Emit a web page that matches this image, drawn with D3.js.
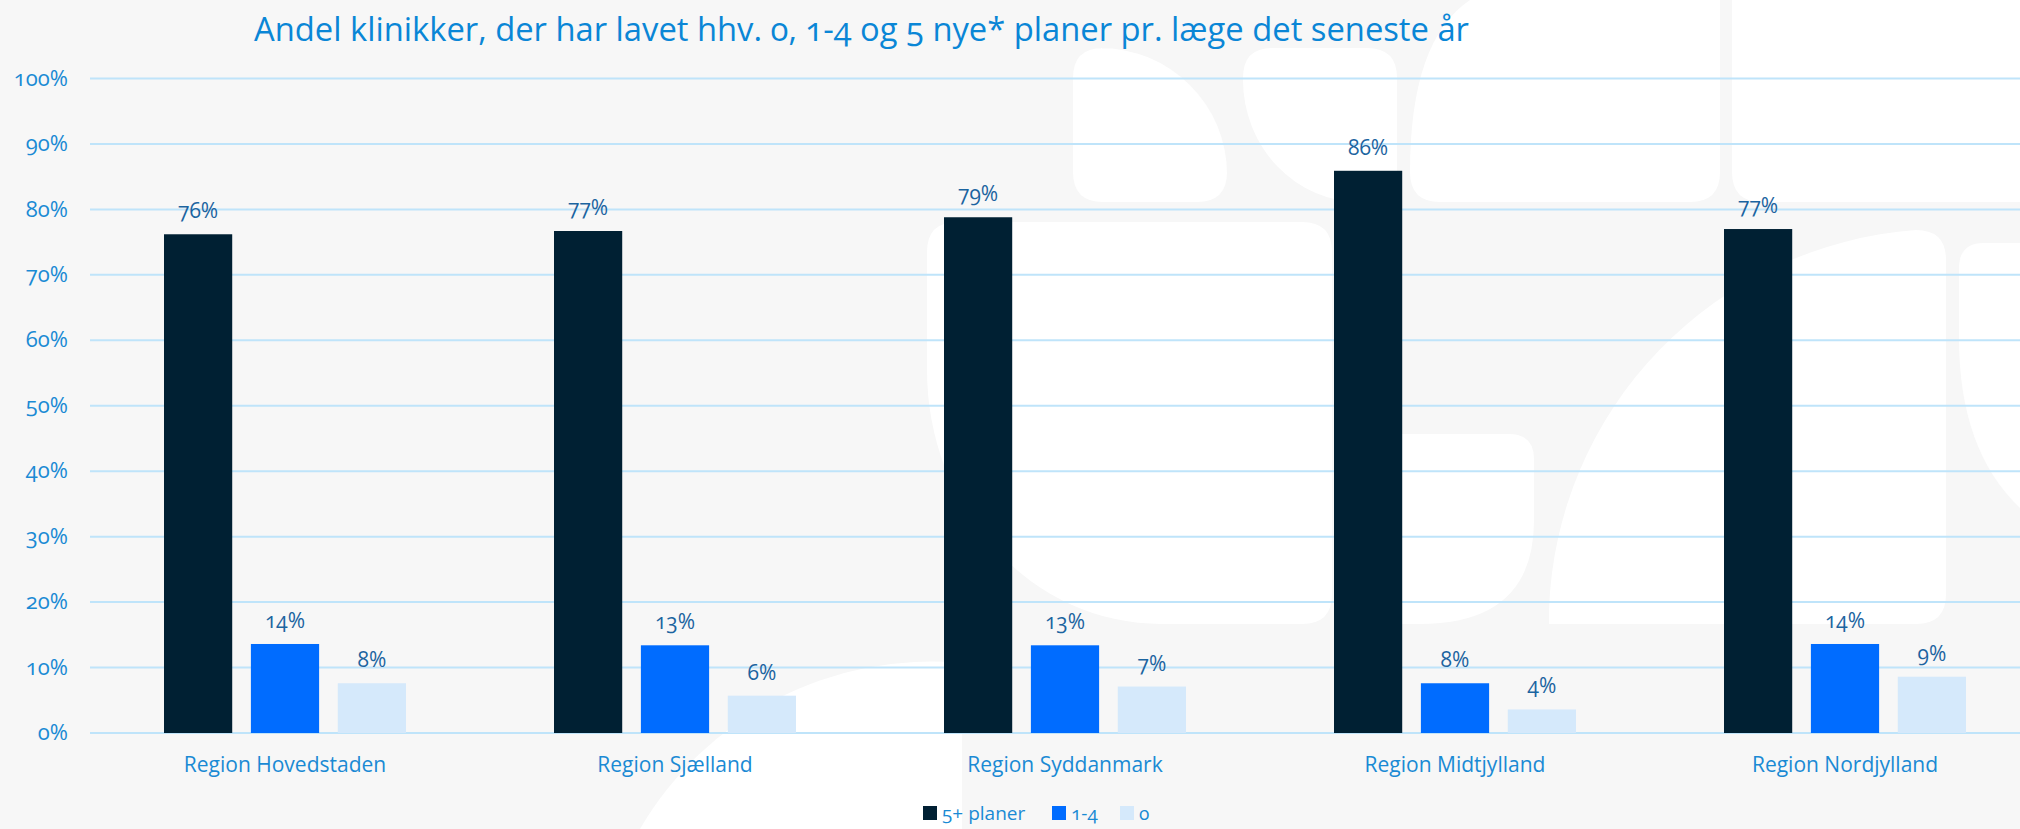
<!DOCTYPE html>
<html>
<head>
<meta charset="utf-8">
<script src="https://cdn.jsdelivr.net/npm/d3@7"></script>
<style>
  html, body { margin: 0; padding: 0; background: #f7f7f7; }
  svg text { font-family: "Open Sans", "Noto Sans", sans-serif; font-variant-numeric: oldstyle-nums; }
</style>
</head>
<body>
<div id="chart"></div>
<script>
// chart data
var regions = ["Region Hovedstaden", "Region Sjælland", "Region Syddanmark", "Region Midtjylland", "Region Nordjylland"];
var seriesNames = ["5+ planer", "1-4", "0"];
var fivePlus = [0.762, 0.767, 0.788, 0.859, 0.770];
var oneToFour = [0.136, 0.134, 0.134, 0.076, 0.136];
var zeroPlans = [0.076, 0.057, 0.071, 0.036, 0.086];
var yTicks = [0, 0.1, 0.2, 0.3, 0.4, 0.5, 0.6, 0.7, 0.8, 0.9, 1];
var titleText = "Andel klinikker, der har lavet hhv. 0, 1-4 og 5 nye* planer pr. læge det seneste år";

var width = 2020, height = 829;
var colors = ["#002033", "#006cff", "#d5e9fb"];

var svg = d3.select("#chart").append("svg")
  .attr("width", width)
  .attr("height", height);

// background
svg.append("rect").attr("width", width).attr("height", height).attr("fill", "#f7f7f7");

// faint logo watermark behind the plot
var decor = [
  "M1103,48 L1100,48 A127,126 0 0 1 1227,174 L1227,172 Q1227,202 1197,202 L1103,202 Q1073,202 1073,172 L1073,78 Q1073,48 1103,48 Z",
  "M1272,48 L1367,48 Q1397,48 1397,78 L1397,172 Q1397,202 1367,202 L1360,202 A117,122 0 0 1 1243,80 L1243,78 Q1243,48 1272,48 Z",
  "M1470,0 L1720,0 L1720,172 Q1720,202 1690,202 L1440,202 Q1410,202 1410,172 Q1410,40 1470,0 Z",
  "M1732,0 L2020,0 L2020,202 L1762,202 Q1732,202 1732,172 Z",
  "M957,222 L1302,222 Q1332,222 1332,252 L1332,594 Q1332,624 1302,624 L1161,624 A234,254 0 0 1 927,370 L927,252 Q927,222 957,222 Z",
  "M1380,434 L1509,434 Q1534,434 1534,459 L1534,520 Q1534,624 1420,624 L1380,624 Z",
  "M1549,624 L1549,610 A397,394 0 0 1 1916,230 Q1946,230 1946,260 L1946,594 Q1946,624 1916,624 Z",
  "M1984,243 L2020,243 L2020,508 Q1959,450 1959,338 L1959,268 Q1959,243 1984,243 Z",
  "M962,663 A337,337 0 0 0 640,829 L962,829 Z"
];
svg.append("g").attr("class", "decor")
  .selectAll("path")
  .data(decor)
  .enter().append("path")
  .attr("d", function(d){ return d; })
  .attr("fill", "#ffffff");

// scales
var x0 = d3.scaleBand().domain(regions).range([90, 2040]).padding(0);
var x1 = d3.scaleBand().domain(seriesNames).range([74, 316]).paddingInner(0.215).paddingOuter(0);
var y = d3.scaleLinear().domain([0, 1]).range([733, 78.5]);
var color = d3.scaleOrdinal().domain(seriesNames).range(colors);
var pct = d3.format(".0%");

// gridlines
svg.append("g").attr("class", "grid")
  .selectAll("line")
  .data(yTicks)
  .enter().append("line")
  .attr("x1", 90)
  .attr("x2", width)
  .attr("y1", function(d){ return y(d); })
  .attr("y2", function(d){ return y(d); })
  .attr("stroke", "#bfe4fa")
  .attr("stroke-width", 2);

// y axis labels
var yAxis = d3.axisLeft(y).tickValues(yTicks).tickFormat(d3.format(".0%")).tickSize(0).tickPadding(0);
svg.append("g")
  .attr("transform", "translate(68,0)")
  .call(yAxis)
  .call(function(g){ g.select(".domain").remove(); })
  .selectAll("text")
  .attr("fill", "#1a8ad4")
  .attr("font-size", 22)
  .attr("dy", "0.3em");

// build rows for bars
var rows = regions.map(function(r, i){
  return {region: r, values: [
    {name: seriesNames[0], value: fivePlus[i]},
    {name: seriesNames[1], value: oneToFour[i]},
    {name: seriesNames[2], value: zeroPlans[i]}
  ]};
});

var groups = svg.append("g").attr("class", "bars")
  .selectAll("g")
  .data(rows)
  .enter().append("g")
  .attr("transform", function(d){ return "translate(" + x0(d.region) + ",0)"; });

groups.selectAll("rect")
  .data(function(d){ return d.values; })
  .enter().append("rect")
  .attr("x", function(d){ return x1(d.name); })
  .attr("width", x1.bandwidth())
  .attr("y", function(d){ return y(d.value); })
  .attr("height", function(d){ return y(0) - y(d.value); })
  .attr("fill", function(d){ return color(d.name); });

// value labels
groups.selectAll("text")
  .data(function(d){ return d.values; })
  .enter().append("text")
  .attr("x", function(d){ return x1(d.name) + x1.bandwidth() / 2; })
  .attr("y", function(d){ return y(d.value) - 16; })
  .attr("text-anchor", "middle")
  .attr("font-size", 21)
  .attr("fill", "#1b64a0")
  .text(function(d){ return pct(d.value); });

// x axis labels
var xAxis = d3.axisBottom(x0).tickSize(0).tickPadding(0);
svg.append("g")
  .attr("transform", "translate(0,772)")
  .call(xAxis)
  .call(function(g){ g.select(".domain").remove(); })
  .selectAll("text")
  .attr("dy", 0)
  .attr("font-size", 21)
  .attr("fill", "#1a8ad4");

// title
svg.append("text")
  .attr("x", 254)
  .attr("y", 41)
  .attr("font-size", 33)
  .attr("fill", "#0a86d6")
  .attr("textLength", 1215)
  .attr("lengthAdjust", "spacingAndGlyphs")
  .text(titleText);

// legend
var legendX = [923, 1052, 1120];
var legend = svg.append("g").attr("class", "legend")
  .selectAll("g")
  .data(seriesNames)
  .enter().append("g")
  .attr("transform", function(d, i){ return "translate(" + legendX[i] + ",806)"; });

legend.append("rect")
  .attr("width", 14)
  .attr("height", 14)
  .attr("fill", function(d){ return color(d); });

legend.append("text")
  .attr("x", 19)
  .attr("y", 14)
  .attr("font-size", 19)
  .attr("fill", "#1a8ad4")
  .text(function(d){ return d; });
</script>
</body>
</html>
